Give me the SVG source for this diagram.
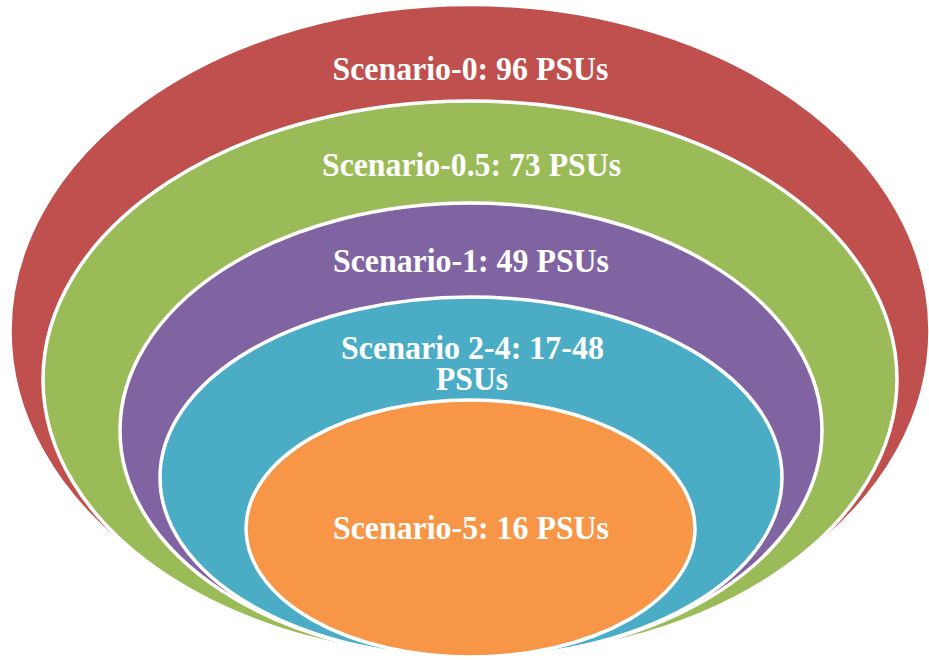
<svg xmlns="http://www.w3.org/2000/svg" width="929" height="660" viewBox="0 0 929 660">
  <style>
    .ring { stroke: #ffffff; stroke-width: 3.5; }
    .lbl { font-family: "Liberation Serif", "Times New Roman", serif; font-weight: bold; font-size: 34px; fill: #ffffff; text-anchor: middle; }
    .lbl-sm { font-size: 33px; }
  </style>
  <rect width="929" height="660" fill="#ffffff"/>
  <g id="scenario-0">
    <ellipse class="ring" cx="470" cy="331" rx="460" ry="326.5" fill="#C0504D"/>
    <text class="lbl" x="470.5" y="80" textLength="276" lengthAdjust="spacingAndGlyphs">Scenario-0: 96 PSUs</text>
  </g>
  <g id="scenario-0-5">
    <ellipse class="ring" cx="470" cy="379.5" rx="427" ry="278.5" fill="#9BBB59"/>
    <text class="lbl" x="471.5" y="176" textLength="299" lengthAdjust="spacingAndGlyphs">Scenario-0.5: 73 PSUs</text>
  </g>
  <g id="scenario-1">
    <ellipse class="ring" cx="471" cy="430.5" rx="351" ry="227.5" fill="#8064A2"/>
    <text class="lbl" x="471" y="272" textLength="276" lengthAdjust="spacingAndGlyphs">Scenario-1: 49 PSUs</text>
  </g>
  <g id="scenario-2-4">
    <ellipse class="ring" cx="471" cy="477.5" rx="311" ry="180.5" fill="#4BACC6"/>
    <text class="lbl lbl-sm" x="472.5" y="359" textLength="263" lengthAdjust="spacingAndGlyphs">Scenario 2-4: 17-48</text>
    <text class="lbl lbl-sm" x="472" y="390" textLength="72" lengthAdjust="spacingAndGlyphs">PSUs</text>
  </g>
  <g id="scenario-5">
    <ellipse class="ring" cx="470.5" cy="528.5" rx="224.5" ry="128.5" fill="#F79646"/>
    <text class="lbl" x="471" y="539" textLength="276" lengthAdjust="spacingAndGlyphs">Scenario-5: 16 PSUs</text>
  </g>
  <g id="connectors"/>
</svg>
